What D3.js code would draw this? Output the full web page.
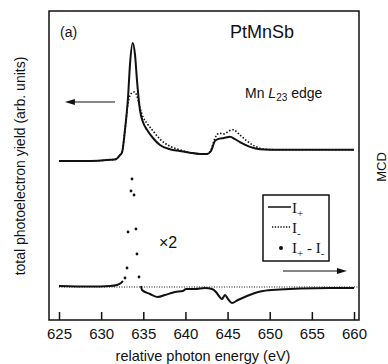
<!DOCTYPE html>
<html>
<head>
<meta charset="utf-8">
<script src="https://cdn.jsdelivr.net/npm/d3@7"></script>
<style>
  body { margin: 0; background: #fff; }
  text { font-family: "Liberation Sans", Arial, sans-serif; fill: #111; }
  .serif { font-family: "Liberation Serif", "Times New Roman", serif; }
</style>
</head>
<body>
<div id="chart"></div>
<script>
// photon energy ticks (eV)
let xTicks = [625, 630, 635, 640, 645, 650, 655, 660];

// I+ (solid) : energy, yield
let iPlusE = [625, 628.7, 631.05, 631.76, 632.24, 632.47, 632.83, 633.19, 633.42, 633.74, 634.02, 634.25, 634.61, 634.96, 635.44, 636.15, 636.98, 638.17, 639.35, 640.54, 641.73, 642.56, 643.03, 643.51, 643.86, 644.57, 645.28, 645.88, 646.47, 647.66, 648.84, 651.22, 653.59, 657.15, 660];
let iPlusV = [1.0, 1.0, 1.02, 1.03, 1.1, 1.14, 1.53, 2.08, 2.63, 3.0, 2.8, 2.37, 1.86, 1.66, 1.53, 1.39, 1.27, 1.2, 1.17, 1.14, 1.12, 1.12, 1.17, 1.34, 1.37, 1.39, 1.41, 1.37, 1.32, 1.24, 1.2, 1.19, 1.19, 1.19, 1.19];

// I- (dotted)
let iMinusE = [625, 628.7, 631.05, 631.76, 632.24, 632.47, 632.83, 633.19, 633.54, 633.96, 634.25, 634.61, 634.96, 635.44, 636.15, 636.98, 638.17, 639.35, 640.54, 641.73, 642.56, 643.03, 643.51, 643.98, 644.57, 645.17, 645.64, 646.47, 647.3, 648.25, 649.44, 651.22, 655, 660];
let iMinusV = [1.0, 1.0, 1.02, 1.03, 1.1, 1.14, 1.53, 1.98, 2.14, 2.17, 2.1, 1.9, 1.75, 1.64, 1.51, 1.37, 1.25, 1.19, 1.14, 1.12, 1.12, 1.19, 1.39, 1.47, 1.46, 1.51, 1.53, 1.44, 1.34, 1.25, 1.2, 1.19, 1.19, 1.19];

// MCD = I+ - I- (continuous parts, null marks the gap)
let mcdE = [625, 628.7, 631.05, 631.88, 632.35, 632.59, null, 634.73, 634.85, 635.8, 636.74, 637.57, 638.76, 639.71, 640.07, 641.13, 642.32, 643.15, 643.62, 643.98, 644.34, 644.69, 645.05, 645.52, 646.23, 647.3, 648.25, 649.2, 651.22, 653.59, 657.15, 660];
let mcdV = [0.01, 0.005, 0.01, 0.02, 0.04, 0.06, null, 0.01, -0.03, -0.07, -0.1, -0.08, -0.05, -0.04, -0.02, -0.02, -0.01, -0.02, -0.05, -0.09, -0.12, -0.08, -0.12, -0.16, -0.13, -0.09, -0.06, -0.04, -0.025, -0.015, -0.01, -0.01];

// MCD x2, sparse points near the L3 peak
let dotE = [632.83, 633.07, 633.19, 633.54, 633.66, 633.9, 634.13, 634.25, 634.49];
let dotV = [0.09, 0.19, 0.55, 0.96, 1.08, 0.92, 0.58, 0.33, 0.1];

let width = 388, height = 364;
let frameL = 49, frameR = 359, frameT = 11, frameB = 320;

let svg = d3.select("#chart").append("svg")
  .attr("width", width).attr("height", height);

let xScale = d3.scaleLinear().domain([625, 660]).range([59, 354]);
let yScale = d3.scaleLinear().domain([1, 3]).range([161, 43]);     // yield
let mScale = d3.scaleLinear().domain([0, 1]).range([287, 187]);    // MCD

// frame
svg.append("rect")
  .attr("x", frameL).attr("y", frameT)
  .attr("width", frameR - frameL).attr("height", frameB - frameT)
  .attr("fill", "none").attr("stroke", "#111").attr("stroke-width", 1.5);

// bottom axis, ticks pointing inward
let xAxis = d3.axisBottom(xScale).tickValues(xTicks).tickSizeInner(-8).tickSizeOuter(0).tickPadding(8);
let gx = svg.append("g").attr("transform", `translate(0, ${frameB})`).call(xAxis);
gx.select(".domain").remove();
gx.selectAll("line").attr("stroke", "#111").attr("stroke-width", 1.5);
gx.selectAll("text").attr("font-size", 15).attr("fill", "#111")
  .attr("font-family", "Liberation Sans, Arial, sans-serif");

// zero line of MCD
svg.append("line")
  .attr("x1", xScale(625)).attr("x2", xScale(660.4))
  .attr("y1", mScale(0)).attr("y2", mScale(0))
  .attr("stroke", "#111").attr("stroke-width", 1).attr("stroke-dasharray", "1,1.5");

let zip = (xs, ys) => xs.map((x, i) => [x, ys[i]]);

let yieldLine = d3.line()
  .x(d => xScale(d[0])).y(d => yScale(d[1]))
  .curve(d3.curveMonotoneX);

svg.append("path").datum(zip(iMinusE, iMinusV))
  .attr("d", yieldLine).attr("fill", "none")
  .attr("stroke", "#111").attr("stroke-width", 1.6).attr("stroke-dasharray", "1.5,1.8");

svg.append("path").datum(zip(iPlusE, iPlusV))
  .attr("d", yieldLine).attr("fill", "none")
  .attr("stroke", "#111").attr("stroke-width", 2);

let mcdLine = d3.line()
  .defined(d => d[0] !== null)
  .x(d => xScale(d[0])).y(d => mScale(d[1]))
  .curve(d3.curveMonotoneX);

svg.append("path").datum(zip(mcdE, mcdV))
  .attr("d", mcdLine).attr("fill", "none")
  .attr("stroke", "#111").attr("stroke-width", 2);

svg.append("g").selectAll("circle")
  .data(zip(dotE, dotV))
  .enter().append("circle")
  .attr("cx", d => xScale(d[0])).attr("cy", d => mScale(d[1]))
  .attr("r", 1.4).attr("fill", "#111");

// arrows
function arrow(x1, x2, y) {
  let dir = x2 > x1 ? 1 : -1;
  svg.append("line")
    .attr("x1", x1).attr("x2", x2 - dir * 8).attr("y1", y).attr("y2", y)
    .attr("stroke", "#111").attr("stroke-width", 1.2);
  svg.append("path")
    .attr("d", `M${x2},${y} L${x2 - dir * 10},${y - 3} L${x2 - dir * 10},${y + 3} Z`)
    .attr("fill", "#111");
}
arrow(xScale(631.64), xScale(625.7), yScale(2.0));
arrow(xScale(651.57), xScale(659.16), mScale(0.16));

// texts
svg.append("text").attr("x", 60).attr("y", 37).attr("font-size", 14).text("(a)");
svg.append("text").attr("x", 230).attr("y", 38).attr("font-size", 18).text("PtMnSb");

let edge = svg.append("text").attr("x", 245).attr("y", 98).attr("font-size", 14);
edge.append("tspan").text("Mn ");
edge.append("tspan").attr("font-style", "italic").text("L");
edge.append("tspan").attr("font-size", 10).attr("dy", 3).text("23");
edge.append("tspan").attr("dy", -3).text(" edge");

svg.append("text").attr("x", 159).attr("y", 248).attr("font-size", 16).text("×2");

// legend
svg.append("rect").attr("x", 263).attr("y", 195).attr("width", 66).attr("height", 66)
  .attr("fill", "#fff").attr("stroke", "#111").attr("stroke-width", 1.5);
svg.append("line").attr("x1", 268).attr("x2", 291).attr("y1", 207).attr("y2", 207)
  .attr("stroke", "#111").attr("stroke-width", 1.5);
svg.append("line").attr("x1", 272).attr("x2", 291).attr("y1", 227).attr("y2", 227)
  .attr("stroke", "#111").attr("stroke-width", 1.3).attr("stroke-dasharray", "1.3,1.5");
svg.append("circle").attr("cx", 281).attr("cy", 248).attr("r", 2).attr("fill", "#111");

function legendLabel(x, y, parts) {
  let t = svg.append("text").attr("class", "serif").attr("x", x).attr("y", y).attr("font-size", 15);
  parts.forEach(p => {
    t.append("tspan").attr("dy", p.dy || 0).attr("font-size", p.size || 15).text(p.t);
  });
}
legendLabel(292, 213, [{t: "I"}, {t: "+", dy: 4, size: 11}]);
legendLabel(292, 233, [{t: "I"}, {t: "-", dy: 4, size: 11}]);
legendLabel(292, 253, [{t: "I"}, {t: "+", dy: 4, size: 11}, {t: " - ", dy: -4}, {t: "I"}, {t: "-", dy: 4, size: 11}]);

// axis titles
svg.append("text").attr("x", 203).attr("y", 361).attr("text-anchor", "middle")
  .attr("font-size", 14.5).text("relative photon energy (eV)");
svg.append("text").attr("transform", "translate(25,166) rotate(-90)")
  .attr("text-anchor", "middle").attr("font-size", 14)
  .text("total photoelectron yield (arb. units)");
svg.append("text").attr("transform", "translate(386,167) rotate(-90)")
  .attr("text-anchor", "middle").attr("font-size", 13).text("MCD");
</script>
</body>
</html>
